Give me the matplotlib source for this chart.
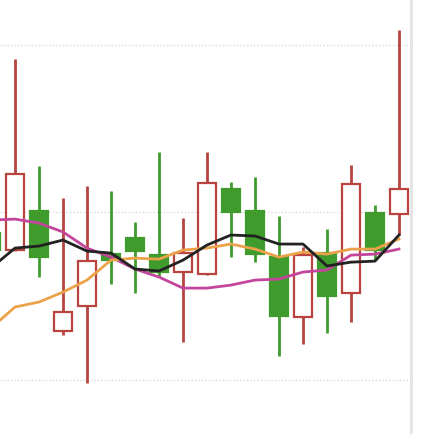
import matplotlib
matplotlib.use("Agg")
import matplotlib.pyplot as plt
from matplotlib.patches import Rectangle

# candle data (index 0 is the half-hidden candle at the left edge)
opens  = [98.75, 97.73, 100.06, 92.90, 94.39, 97.49, 98.45, 97.43, 96.42, 96.30,
          101.37, 100.06, 97.31, 93.73, 97.55, 95.16, 99.94, 99.88]
highs  = [99.22, 109.13, 102.75, 100.84, 101.55, 101.25, 99.40, 103.58, 99.64, 103.58,
          101.79, 102.09, 99.76, 97.91, 98.99, 102.81, 100.42, 110.87]
lows   = [97.25, 97.67, 96.12, 92.66, 89.79, 95.70, 95.16, 96.12, 92.24, 96.24,
          97.31, 97.01, 91.40, 92.12, 92.78, 93.43, 97.13, 98.63]
closes = [97.73, 102.27, 97.31, 94.03, 97.07, 97.13, 97.67, 96.42, 97.55, 101.73,
          100.00, 97.49, 93.79, 97.43, 94.99, 101.67, 97.73, 101.37]

# moving averages
ma_black = [96.66, 97.85, 97.97, 98.33, 97.67, 97.55, 96.60, 96.48, 97.13, 98.03,
            98.63, 98.57, 98.09, 98.09, 96.78, 97.01, 97.07, 98.63]
ma_orange = [93.07, 94.33, 94.63, 95.22, 95.94, 97.13, 97.25, 97.19, 97.73, 97.85,
             98.09, 97.79, 97.31, 97.61, 97.49, 97.79, 97.79, 98.39]
ma_magenta = [99.52, 99.58, 99.34, 98.81, 97.85, 97.31, 96.60, 96.12, 95.46, 95.46,
              95.64, 95.94, 96.00, 96.42, 96.54, 97.43, 97.49, 97.79]

grid_levels = [90, 100, 110]

RED = "#b8433f"
GREEN = "#3f9c2c"

fig = plt.figure(figsize=(4.23, 4.34), dpi=100)
ax = fig.add_axes([0, 0, 1, 1])
ax.set_xlim(0.375, 18.0)
ax.set_ylim(86.75, 112.66)
ax.axis("off")

# gridlines stop at the right border line
x_edge = 17.5
for g in grid_levels:
    ax.hlines(g, 0.375, x_edge, color="#d9d9d9", linestyle=(0, (1, 1.5)),
              linewidth=1, zorder=0)
ax.axvline(x_edge, color="#e4e4e4", linewidth=2, zorder=0)

w = 0.76
for i, (o, h, l, c) in enumerate(zip(opens, highs, lows, closes)):
    top, bot = max(o, c), min(o, c)
    if c > o:
        col, face = RED, "white"
    else:
        col, face = GREEN, GREEN
    ax.vlines(i, top, h, color=col, linewidth=2, zorder=2)
    ax.vlines(i, l, bot, color=col, linewidth=2, zorder=2)
    ax.add_patch(Rectangle((i - w / 2, bot), w, top - bot, facecolor=face,
                           edgecolor=col, linewidth=1.6, zorder=3))

x = list(range(len(opens)))
ax.plot(x, ma_magenta, color="#c4469c", linewidth=2, zorder=4)
ax.plot(x, ma_orange, color="#eba24a", linewidth=2, zorder=5)
ax.plot(x, ma_black, color="#222222", linewidth=2, zorder=6)

fig.savefig("out.png", dpi=100)
